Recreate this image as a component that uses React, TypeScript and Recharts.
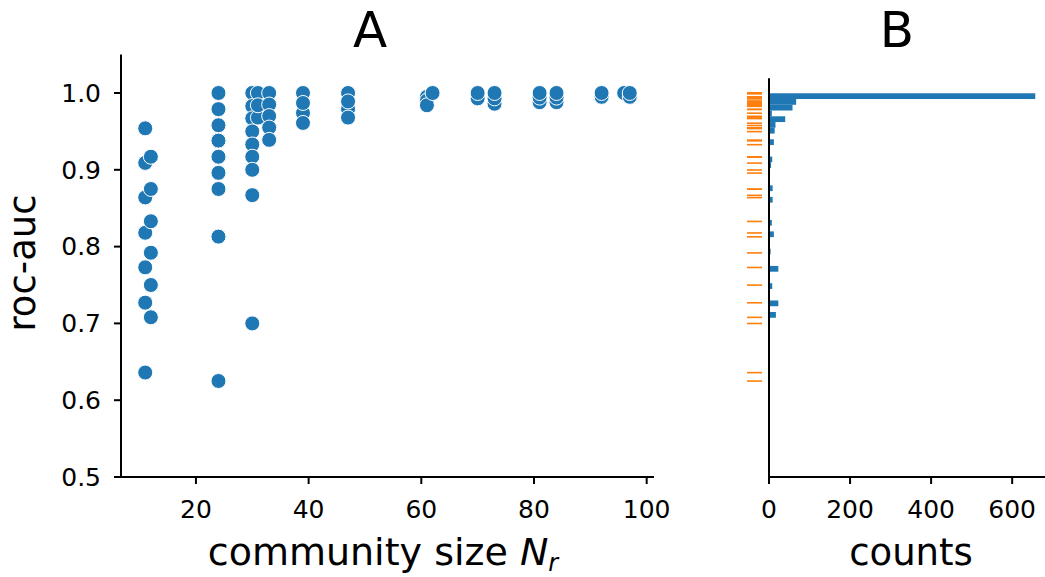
import React from 'react';
import {
  ScatterChart, Scatter, ComposedChart, Bar, XAxis, YAxis,
} from 'recharts';

// panel A: community size vs roc-auc
const communitySizes = [
  11, 11, 11, 11, 11, 11, 11,
  12, 12, 12, 12, 12, 12,
  24, 24, 24, 24, 24, 24, 24, 24, 24,
  30, 30, 30, 30, 30, 30, 30, 30, 30,
  31, 31, 31,
  33, 33, 33, 33, 33,
  39, 39, 39, 39,
  47, 47, 47, 47,
  61, 61, 61, 62,
  70, 70, 73, 73, 73,
  81, 81, 81, 84, 84, 84,
  92, 92, 96, 97, 97,
];
const rocAuc = [
  0.954, 0.909, 0.864, 0.818, 0.773, 0.727, 0.636,
  0.917, 0.875, 0.833, 0.792, 0.75, 0.708,
  1.0, 0.979, 0.958, 0.938, 0.917, 0.896, 0.875, 0.813, 0.625,
  1.0, 0.983, 0.967, 0.95, 0.933, 0.917, 0.9, 0.867, 0.7,
  1.0, 0.968, 0.984,
  1.0, 0.985, 0.97, 0.955, 0.939,
  1.0, 0.974, 0.961, 0.987,
  1.0, 0.979, 0.968, 0.989,
  0.995, 0.99, 0.984, 1.0,
  0.993, 1.0, 0.986, 0.993, 1.0,
  0.988, 0.994, 1.0, 0.988, 0.994, 1.0,
  0.995, 1.0, 1.0, 0.995, 1.0,
];

// panel B: histogram of roc-auc, 50 bins starting at 0.625
const binStart = 0.625;
const binWidth = 0.0075;
const binCounts = [
  1, 1, 0, 0, 0, 0, 0, 0, 0, 0,
  0, 17, 0, 23, 0, 0, 8, 0, 0, 23,
  0, 0, 4, 0, 0, 12, 0, 7, 0, 0,
  0, 9, 0, 9, 0, 0, 0, 5, 8, 0,
  0, 12, 0, 14, 16, 40, 7, 58, 67, 657,
];

const sizeTicks = [20, 40, 60, 80, 100];
const aucTicks = [0.5, 0.6, 0.7, 0.8, 0.9, 1.0];
const countTicks = [0, 200, 400, 600];

const points = communitySizes.map((n, i) => ({ n, auc: rocAuc[i] }));
const hist = binCounts.map((count, i) => ({ mid: binStart + binWidth * (i + 0.5), count }));
const rug = rocAuc.map((v) => ({ mid: v, count: 0 }));

const FONT = '"DejaVu Sans", sans-serif';
const tickStyle = { fill: '#000', fontSize: 25, fontFamily: FONT };
const BLUE = '#1f77b4';
const ORANGE = '#ff7f0e';
const BAR_THICK = 5.76; // one bin in pixels

const Dot = (props: any) => (
  <circle cx={props.cx} cy={props.cy} r={7.5} fill={BLUE} stroke="#fff" strokeWidth={1} />
);

const RugLine = (props: any) => (
  <line x1={props.cx - 22} x2={props.cx - 7} y1={props.cy} y2={props.cy} stroke={ORANGE} strokeWidth={1.6} />
);

// horizontal histogram bar centred on the bin middle
const HistBar = (props: any) => {
  const { x, y, width, height } = props;
  if (!width || width <= 0) return null;
  const cy = y + height / 2;
  return <rect x={x} y={cy - BAR_THICK / 2} width={width} height={BAR_THICK} fill={BLUE} />;
};

export default function App() {
  return (
    <div style={{ position: 'absolute', left: 0, top: 0, width: 1045, height: 577, background: '#fff', fontFamily: FONT }}>
      <div style={{ position: 'absolute', left: 0, top: 0 }}>
        <ScatterChart width={680} height={577} margin={{ top: 54.6, right: 26, bottom: 0, left: 0 }}>
          <XAxis
            type="number"
            dataKey="n"
            domain={[6.7, 101.3]}
            ticks={sizeTicks}
            height={100}
            tick={tickStyle}
            tickSize={7}
            tickMargin={16}
            stroke="#000"
            strokeWidth={2}
          />
          <YAxis
            type="number"
            dataKey="auc"
            domain={[0.5, 1.05]}
            ticks={aucTicks}
            tickFormatter={(v: number) => v.toFixed(1)}
            width={121}
            tick={tickStyle}
            tickSize={7}
            tickMargin={13}
            stroke="#000"
            strokeWidth={2}
          />
          <Scatter data={points} shape={<Dot />} isAnimationActive={false} />
        </ScatterChart>
      </div>
      <div style={{ position: 'absolute', left: 680, top: 0 }}>
        <ComposedChart
          layout="vertical"
          width={365}
          height={577}
          data={hist}
          barCategoryGap={0}
          margin={{ top: 78.3, right: 0, bottom: 0, left: 0 }}
        >
          <XAxis
            type="number"
            dataKey="count"
            domain={[0, 681]}
            ticks={countTicks}
            height={100}
            tick={tickStyle}
            tickSize={7}
            tickMargin={16}
            stroke="#000"
            strokeWidth={2}
          />
          <YAxis
            type="number"
            dataKey="mid"
            domain={[0.5, 1.0195]}
            reversed
            width={89}
            tick={false}
            tickLine={false}
            stroke="#000"
            strokeWidth={2}
          />
          <Bar dataKey="count" fill={BLUE} shape={<HistBar />} isAnimationActive={false} />
          <Scatter data={rug} shape={<RugLine />} isAnimationActive={false} />
        </ComposedChart>
      </div>
      <svg width={1045} height={577} style={{ position: 'absolute', left: 0, top: 0, pointerEvents: 'none' }}>
        <text x={370} y={47} textAnchor="middle" fontSize={50} fontFamily={FONT}>A</text>
        <text x={897} y={47} textAnchor="middle" fontSize={50} fontFamily={FONT}>B</text>
        <text x={35} y={263} textAnchor="middle" fontSize={37} fontFamily={FONT} transform="rotate(-90 35 263)">roc-auc</text>
        <text x={383} y={565} textAnchor="middle" fontSize={38} fontFamily={FONT}>
          community size <tspan fontStyle="italic">N</tspan>
          <tspan fontStyle="italic" fontSize={24} dy={6}>r</tspan>
        </text>
        <text x={911} y={565} textAnchor="middle" fontSize={37} fontFamily={FONT}>counts</text>
      </svg>
    </div>
  );
}
